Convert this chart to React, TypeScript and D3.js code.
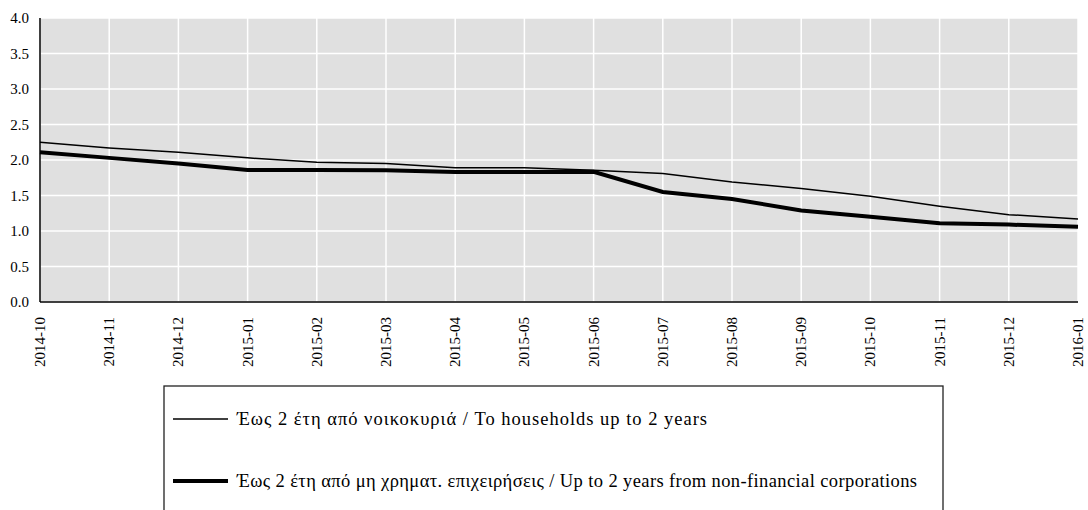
import React from "react";
import * as d3 from "d3";

const categories = ["2014-10","2014-11","2014-12","2015-01","2015-02","2015-03","2015-04","2015-05","2015-06","2015-07","2015-08","2015-09","2015-10","2015-11","2015-12","2016-01"];
const households = [2.25,2.17,2.11,2.03,1.97,1.95,1.89,1.89,1.855,1.81,1.69,1.60,1.49,1.35,1.23,1.17];
const corporations = [2.11,2.03,1.95,1.86,1.86,1.855,1.83,1.83,1.835,1.55,1.45,1.29,1.20,1.11,1.09,1.06];
const yTicks = [0,0.5,1,1.5,2,2.5,3,3.5,4];
const seriesNames = [
  "Έως 2 έτη από νοικοκυριά / To households up to 2 years",
  "Έως 2 έτη από μη χρηματ. επιχειρήσεις / Up to 2 years from non-financial corporations",
];

const W = 1088, H = 510;
const M = { left: 40, right: 1078, top: 18, bottom: 302 };
const FONT = "'Liberation Serif', serif";
const ts: React.CSSProperties = { fontFamily: FONT };

export default function App() {
  const x = d3.scalePoint<string>().domain(categories).range([M.left, M.right]);
  const y = d3.scaleLinear().domain([0, 4]).range([M.bottom, M.top]);
  const line = d3.line<number>().x((_, i) => x(categories[i])!).y(d => y(d));
  return (
    <svg width={W} height={H} style={{ position: "absolute", left: 0, top: 0, background: "#fff", fontFamily: FONT }}>
      <rect x={M.left} y={M.top} width={M.right - M.left} height={M.bottom - M.top} fill="#e0e0e0" />
      {yTicks.map(t => (
        <line key={"gy" + t} x1={M.left} x2={M.right} y1={y(t)} y2={y(t)} stroke="#fff" strokeWidth={1.5} />
      ))}
      {categories.map(c => (
        <line key={"gx" + c} x1={x(c)} x2={x(c)} y1={M.top} y2={M.bottom} stroke="#fff" strokeWidth={1.5} />
      ))}
      <path d={line(households)!} fill="none" stroke="#000" strokeWidth={1.5} />
      <path d={line(corporations)!} fill="none" stroke="#000" strokeWidth={4} />
      <line x1={M.left} x2={M.left} y1={M.top} y2={M.bottom} stroke="#000" strokeWidth={1.5} />
      <line x1={M.left} x2={M.right} y1={M.bottom} y2={M.bottom} stroke="#000" strokeWidth={1.5} />
      {yTicks.map(t => (
        <text key={"ty" + t} style={ts} x={M.left - 11} y={y(t)} dy="0.35em" textAnchor="end" fontSize={15} fill="#000">{t.toFixed(1)}</text>
      ))}
      {categories.map(c => (
        <text key={"tx" + c} style={ts} transform={`translate(${x(c)! + 5},${M.bottom + 15}) rotate(-90)`} textAnchor="end" fontSize={15} fill="#000">{c}</text>
      ))}
      <rect x={164} y={386} width={779} height={140} fill="#fff" stroke="#222" strokeWidth={1.3} />
      <line x1={173} x2={228} y1={419} y2={419} stroke="#000" strokeWidth={1.5} />
      <text style={ts} x={237} y={419} dy="0.33em" fontSize={18.5} textLength={470} lengthAdjust="spacing" fill="#000">{seriesNames[0]}</text>
      <line x1={173} x2={228} y1={481} y2={481} stroke="#000" strokeWidth={4} />
      <text style={ts} x={237} y={481} dy="0.33em" fontSize={18.5} textLength={680} lengthAdjust="spacing" fill="#000">{seriesNames[1]}</text>
    </svg>
  );
}
